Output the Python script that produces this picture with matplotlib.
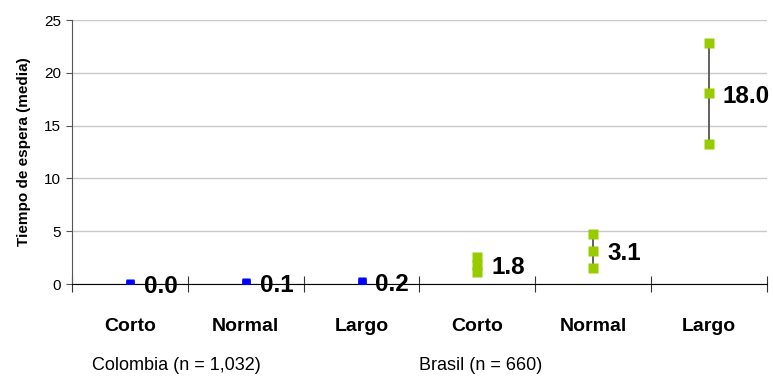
import matplotlib.pyplot as plt
from matplotlib.ticker import FixedLocator, NullFormatter

plt.rcParams['font.family'] = ['Liberation Sans', 'DejaVu Sans']

categorias = ['Corto', 'Normal', 'Largo', 'Corto', 'Normal', 'Largo']
grupos = ['Colombia (n = 1,032)', 'Brasil (n = 660)']

# Colombia
col_media = [0.0, 0.1, 0.2]
col_bajo = [0.0, 0.05, 0.1]
col_alto = [0.05, 0.15, 0.3]
# Brasil
bra_media = [1.8, 3.15, 18.05]
bra_bajo = [1.1, 1.5, 13.3]
bra_alto = [2.6, 4.7, 22.85]
bra_etiqueta = ['1.8', '3.1', '18.0']
col_etiqueta = ['0.0', '0.1', '0.2']

fig = plt.figure(figsize=(7.73, 3.82), dpi=100)
ax = fig.add_axes([0.0931, 0.2565, 0.8991, 0.6911])

x_col = [0, 1, 2]
x_bra = [3, 4, 5]

ax.vlines(x_bra, bra_bajo, bra_alto, color='#555555', lw=1.3, zorder=2)
for serie in (col_media, col_bajo, col_alto):
    ax.plot(x_col, serie, 's', color='#0000FF', ms=5.2, mec='none', zorder=3)
for serie in (bra_media, bra_bajo, bra_alto):
    ax.plot(x_bra, serie, 's', color='#99CC00', ms=6.5, mec='none', zorder=3)

for xi, yi, t in zip(x_col + x_bra, col_media + bra_media, col_etiqueta + bra_etiqueta):
    ax.annotate(t, (xi, yi), xytext=(10, -2), textcoords='offset points',
                ha='left', va='center', fontsize=17.5, fontweight='bold', zorder=4)

ax.set_xlim(-0.5, 5.5)
ax.set_ylim(0, 25)
ax.set_yticks([0, 5, 10, 15, 20, 25])
ax.tick_params(axis='y', labelsize=11, length=4, color='#555555', pad=4)
ax.yaxis.grid(True, color='#C8C8C8', lw=1)
ax.set_axisbelow(True)

ax.xaxis.set_major_locator(FixedLocator([-0.5, 0.5, 1.5, 2.5, 3.5, 4.5, 5.5]))
ax.xaxis.set_major_formatter(NullFormatter())
ax.tick_params(axis='x', direction='inout', length=11, color='#333333')

for s in ('top', 'right'):
    ax.spines[s].set_visible(False)
ax.spines['left'].set_color('#555555')
ax.spines['bottom'].set_color('black')

ax.set_ylabel('Tiempo de espera (media)', fontsize=11, fontweight='bold', labelpad=9)

for i, c in enumerate(categorias):
    ax.text(i, -4, c, ha='center', va='center', fontsize=14, fontweight='bold',
            clip_on=False)

fig.text(176 / 773, 1 - 365 / 382, grupos[0], ha='center', va='center', fontsize=13)
fig.text(481 / 773, 1 - 365 / 382, grupos[1], ha='center', va='center', fontsize=13)

fig.savefig('out.png', dpi=100)
